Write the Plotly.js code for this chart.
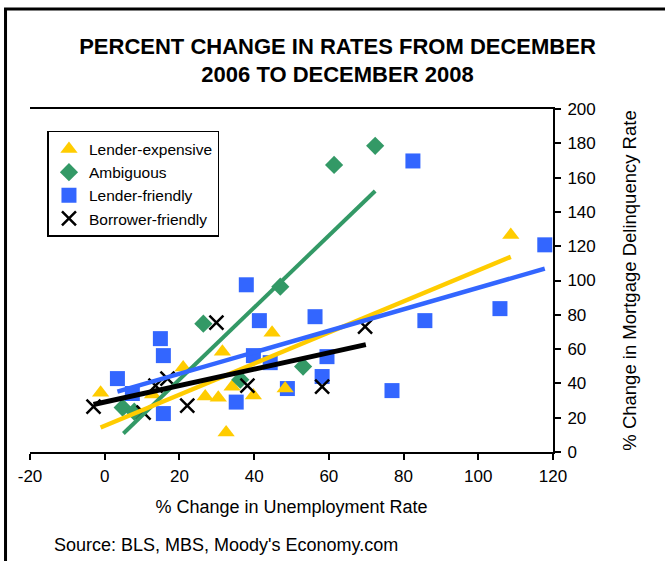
<!DOCTYPE html>
<html>
<head>
<meta charset="utf-8">
<script src="https://cdn.plot.ly/plotly-3.0.1.min.js"></script>
<style>html,body{margin:0;padding:0;background:#fff;}#chart{width:665px;height:561px;}</style>
</head>
<body>
<div id="chart"></div>
<script>
// Lender-expensive (triangles)
const lenderExpX = [-1.1, 12.8, 21.0, 31.5, 44.8, 26.9, 30.4, 34.1, 39.8, 32.5, 48.3, 108.7];
const lenderExpY = [34.6, 33.5, 49.2, 58.5, 69.6, 32.3, 31.7, 38.1, 32.9, 11.4, 37.0, 126.6];
// Ambiguous (diamonds)
const ambigX = [4.8, 7.9, 26.4, 36.3, 47.0, 53.1, 61.4, 72.4];
const ambigY = [25.9, 23.5, 74.8, 42.2, 96.4, 49.8, 167.4, 178.5];
// Lender-friendly (squares)
const friendlyX = [3.4, 7.4, 14.9, 15.7, 15.7, 35.2, 37.9, 39.8, 41.4, 44.3, 48.9, 56.3, 59.5, 58.2, 76.9, 82.5, 85.7, 105.8, 117.8];
const friendlyY = [42.8, 34.1, 66.1, 56.2, 22.4, 29.1, 97.5, 56.2, 76.6, 52.1, 37.0, 78.9, 55.6, 44.0, 35.8, 169.7, 76.6, 83.6, 120.8];
// Borrower-friendly (crosses)
const borrowerX = [-3.0, 10.4, 13.6, 16.8, 22.1, 29.9, 38.2, 58.2, 69.7];
const borrowerY = [26.5, 23.0, 38.7, 42.8, 27.1, 75.4, 38.7, 38.1, 73.1];
// Trend lines (end points)
const trendLenderExpX = [-1.1, 108.7], trendLenderExpY = [14.3, 113.8];
const trendAmbigX = [5.0, 72.4], trendAmbigY = [10.8, 152.2];
const trendFriendlyX = [3.4, 117.8], trendFriendlyY = [35.2, 106.9];
const trendBorrowerX = [-3.0, 69.9], trendBorrowerY = [27.7, 62.6];

const seriesNames = ['Lender-expensive', 'Ambiguous', 'Lender-friendly', 'Borrower-friendly'];
const xTicks = [-20, 0, 20, 40, 60, 80, 100, 120];
const yTicks = [0, 20, 40, 60, 80, 100, 120, 140, 160, 180, 200];

const YELLOW = '#FFCC00', GREEN = '#339966', BLUE = '#3366FF', BLACK = '#000000';
const FONT = 'Liberation Sans, Arial, sans-serif';

const traces = [
  {x: friendlyX, y: friendlyY, name: seriesNames[2], legendgroup: 'c', legendrank: 3, type: 'scatter', mode: 'markers',
   marker: {symbol: 'square', size: 15, color: BLUE, line: {width: 0}}},
  {x: lenderExpX, y: lenderExpY, name: seriesNames[0], legendgroup: 'a', legendrank: 1, type: 'scatter', mode: 'markers',
   marker: {symbol: 'triangle-up', size: 15, color: YELLOW, line: {width: 0}}},
  {x: ambigX, y: ambigY, name: seriesNames[1], legendgroup: 'b', legendrank: 2, type: 'scatter', mode: 'markers',
   marker: {symbol: 'diamond', size: 14, color: GREEN, line: {width: 0}}},
  {x: borrowerX, y: borrowerY, name: seriesNames[3], legendgroup: 'd', legendrank: 4, type: 'scatter', mode: 'markers',
   marker: {symbol: 'x-thin', size: 14, color: BLACK, line: {width: 2.5, color: BLACK}}},
  {x: trendAmbigX, y: trendAmbigY, type: 'scatter', mode: 'lines', showlegend: false, hoverinfo: 'skip',
   line: {color: GREEN, width: 4}},
  {x: trendLenderExpX, y: trendLenderExpY, type: 'scatter', mode: 'lines', showlegend: false, hoverinfo: 'skip',
   line: {color: YELLOW, width: 4.5}},
  {x: trendFriendlyX, y: trendFriendlyY, type: 'scatter', mode: 'lines', showlegend: false, hoverinfo: 'skip',
   line: {color: BLUE, width: 4.5}},
  {x: trendBorrowerX, y: trendBorrowerY, type: 'scatter', mode: 'lines', showlegend: false, hoverinfo: 'skip',
   line: {color: BLACK, width: 5}}
];

const layout = {
  width: 665, height: 561,
  paper_bgcolor: '#ffffff', plot_bgcolor: '#ffffff',
  margin: {l: 29.5, r: 111.7, t: 109, b: 109, pad: 0},
  font: {family: FONT, color: '#000', size: 17},
  title: {
    text: 'PERCENT CHANGE IN RATES FROM DECEMBER<br>2006 TO DECEMBER 2008',
    font: {family: FONT, size: 22, color: '#000', weight: 'bold'},
    xref: 'container', x: 0.5075, xanchor: 'center',
    yref: 'container', y: 0.904, yanchor: 'middle'
  },
  showlegend: true,
  legend: {
    x: 0.0334, y: 0.936, xanchor: 'left', yanchor: 'top',
    bgcolor: '#ffffff', bordercolor: '#000', borderwidth: 1.5,
    font: {family: FONT, size: 15.5, color: '#000'},
    traceorder: 'grouped', tracegroupgap: 0
  },
  xaxis: {
    range: [-20, 120], tickmode: 'array', tickvals: xTicks, ticktext: xTicks.map(String),
    ticks: 'outside', ticklen: 6, tickwidth: 2, tickcolor: '#000',
    showline: true, linecolor: '#000', linewidth: 2, mirror: true,
    showgrid: false, zeroline: false, ticklabelstandoff: 2,
    tickfont: {family: FONT, size: 17, color: '#000'},
    title: {text: '% Change in Unemployment Rate', font: {family: FONT, size: 18, color: '#000'}, standoff: 15}
  },
  yaxis: {
    range: [0, 200], side: 'right', tickmode: 'array', tickvals: yTicks, ticktext: yTicks.map(String),
    ticks: 'outside', ticklen: 6, tickwidth: 2, tickcolor: '#000',
    showline: true, linecolor: '#000', linewidth: 2,
    showgrid: false, zeroline: false, ticklabelstandoff: 3,
    tickfont: {family: FONT, size: 17, color: '#000'},
    title: {text: '% Change in Mortgage Delinquency Rate', font: {family: FONT, size: 18.5, color: '#000'}, standoff: 28}
  },
  annotations: [{
    text: "Source: BLS, MBS, Moody's Economy.com",
    xref: 'paper', yref: 'paper', x: 0.043, y: -0.271, xanchor: 'left', yanchor: 'middle',
    showarrow: false, font: {family: FONT, size: 18, color: '#000'}
  }],
  shapes: [{
    type: 'path', xref: 'paper', yref: 'paper',
    path: 'M -0.0468,-0.35 L -0.0468,1.2915 L 1.25,1.2915',
    line: {color: '#000', width: 3}
  }]
};

Plotly.newPlot('chart', traces, layout, {staticPlot: true, displayModeBar: false});
</script>
</body>
</html>
